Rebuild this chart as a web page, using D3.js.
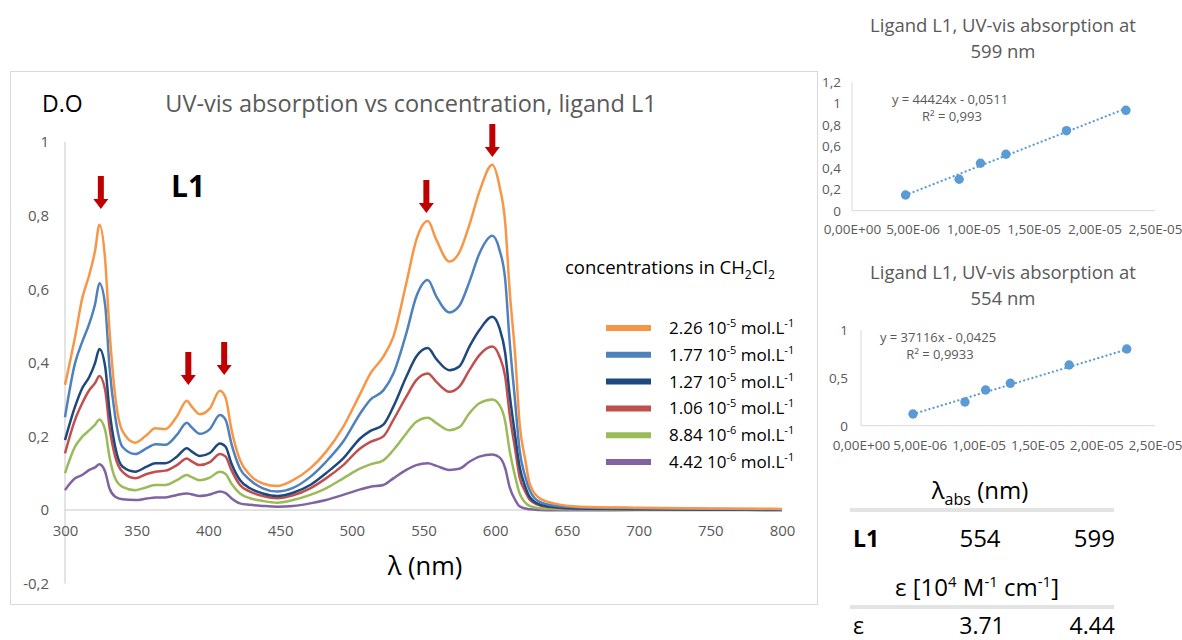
<!DOCTYPE html>
<html><head><meta charset="utf-8">
<script src="https://cdn.jsdelivr.net/npm/d3@7"></script>
<style>
body{margin:0;background:#fff}
svg{display:block}
text{font-family:"Open Sans",sans-serif}
</style>
</head><body>
<svg id="c" width="1182" height="640"></svg>
<script>
// ---------------- DATA ----------------
const wavelengths = [300,307,312,317,321,324,328,331,335,340,349,357,363,370,378,385,388,394,401,408,412,416,422,429,438,448,459,471,482,494,506,513,522,529,538,545,553,559,568,575,582,589,598,603,607,610,614,617,621,624,631,641,659,700,750,800];

const a226 = [0.34,0.47,0.575,0.64,0.705,0.775,0.68,0.49,0.31,0.215,0.183,0.204,0.222,0.22,0.254,0.297,0.283,0.26,0.276,0.324,0.305,0.22,0.136,0.095,0.072,0.065,0.081,0.113,0.158,0.226,0.317,0.371,0.417,0.471,0.616,0.734,0.785,0.734,0.675,0.70,0.775,0.865,0.938,0.88,0.78,0.60,0.417,0.236,0.136,0.0725,0.032,0.018,0.009,0.006,0.004,0.003];
const a177 = [0.252,0.399,0.457,0.507,0.56,0.616,0.557,0.389,0.254,0.172,0.152,0.168,0.179,0.177,0.204,0.237,0.226,0.207,0.22,0.258,0.245,0.181,0.113,0.0815,0.059,0.05,0.06,0.09,0.131,0.186,0.263,0.30,0.325,0.371,0.48,0.58,0.625,0.58,0.537,0.555,0.62,0.697,0.745,0.707,0.625,0.462,0.29,0.163,0.09,0.054,0.022,0.012,0.007,0.005,0.003,0.002];
const a127 = [0.19,0.281,0.331,0.362,0.40,0.4375,0.39,0.272,0.172,0.118,0.104,0.118,0.127,0.127,0.145,0.168,0.16,0.147,0.155,0.181,0.172,0.127,0.0815,0.059,0.045,0.038,0.047,0.068,0.10,0.14,0.195,0.215,0.232,0.281,0.362,0.417,0.44,0.41,0.38,0.39,0.444,0.489,0.525,0.494,0.426,0.317,0.20,0.118,0.063,0.036,0.015,0.008,0.004,0.002,0.001,0.0];
const a106 = [0.154,0.245,0.29,0.326,0.345,0.364,0.326,0.226,0.145,0.104,0.086,0.098,0.104,0.107,0.122,0.14,0.133,0.122,0.13,0.152,0.145,0.109,0.068,0.05,0.038,0.032,0.04,0.059,0.086,0.122,0.168,0.185,0.20,0.245,0.308,0.353,0.371,0.348,0.321,0.335,0.38,0.421,0.444,0.417,0.362,0.263,0.163,0.09,0.05,0.029,0.013,0.007,0.004,0.003,0.002,0.001];
const a884 = [0.10,0.172,0.199,0.217,0.232,0.246,0.217,0.145,0.086,0.063,0.054,0.062,0.068,0.068,0.081,0.095,0.09,0.081,0.088,0.104,0.098,0.072,0.045,0.032,0.0245,0.02,0.027,0.041,0.059,0.086,0.113,0.124,0.135,0.163,0.208,0.24,0.251,0.236,0.217,0.225,0.263,0.29,0.30,0.285,0.24,0.163,0.09,0.045,0.02,0.011,0.005,0.003,0.002,0.001,0.001,0.001];
const a442 = [0.054,0.086,0.095,0.109,0.116,0.124,0.104,0.059,0.036,0.029,0.027,0.031,0.034,0.034,0.041,0.045,0.043,0.038,0.042,0.05,0.046,0.032,0.018,0.014,0.011,0.009,0.011,0.018,0.027,0.041,0.056,0.063,0.068,0.086,0.109,0.122,0.127,0.12,0.109,0.112,0.131,0.145,0.151,0.143,0.113,0.063,0.027,0.01,0.004,0.002,0.0,-0.001,-0.001,0.0,0.0,0.0];

const concMantissa = ["2.26","1.77","1.27","1.06","8.84","4.42"];
const concExponent = ["-5","-5","-5","-5","-6","-6"];
const seriesColors = ["#F79646","#4F81BD","#1F497D","#C0504D","#9BBB59","#8064A2"];

const xTicks = [300,350,400,450,500,550,600,650,700,750,800];
const yTicks = [-0.2,0,0.2,0.4,0.6,0.8,1];

const arrowLambda = [325,386,411,552,598];
const arrowTipDO  = [0.818,0.34,0.367,0.807,0.959];

// calibration plots
const concPoints = [4.42e-6,8.84e-6,1.06e-5,1.27e-5,1.77e-5,2.26e-5];
const abs599 = [0.146,0.293,0.442,0.526,0.746,0.936];
const abs554 = [0.122,0.248,0.373,0.443,0.634,0.801];
const fit599 = [44424,-0.0511];
const fit554 = [37116,-0.0425];
const eq599 = ["y = 44424x - 0,0511","R² = 0,993"];
const eq554 = ["y = 37116x - 0,0425","R² = 0,9933"];
const concTicks = [0,5e-6,1e-5,1.5e-5,2e-5,2.5e-5];
const concTickLabels = ["0,00E+00","5,00E-06","1,00E-05","1,50E-05","2,00E-05","2,50E-05"];
const yTicks599 = [0,0.2,0.4,0.6,0.8,1,1.2];
const yTicks554 = [0,0.5,1];

// table
const tableLambda = ["554","599"];
const tableEps = ["3.71","4.44"];

// ---------------- DRAW ----------------
const svg = d3.select("#c");
const gray = "#595959";
const commaFmt = d => String(d).replace(".", ",");

// main frame
svg.append("rect").attr("x",10.5).attr("y",71.5).attr("width",807).attr("height",533)
  .attr("fill","#fff").attr("stroke","#d9d9d9");

const x = d3.scaleLinear().domain([300,800]).range([65,782]);
const y = d3.scaleLinear().domain([-0.2,1]).range([583.6,142]);

svg.append("line").attr("x1",65).attr("x2",65).attr("y1",y(1)).attr("y2",y(-0.2)).attr("stroke","#c8c8c8");
svg.append("line").attr("x1",x(300)).attr("x2",x(800)).attr("y1",y(0)).attr("y2",y(0)).attr("stroke","#c8c8c8");

const gy = svg.append("g").attr("transform","translate(65,0)")
  .call(d3.axisLeft(y).tickValues(yTicks).tickSize(0).tickPadding(16).tickFormat(commaFmt));
gy.select(".domain").remove();
gy.selectAll("text").attr("fill",gray).style("font-size","15px").style("font-family","Open Sans");

const gx = svg.append("g").attr("transform",`translate(0,${y(0)})`)
  .call(d3.axisBottom(x).tickValues(xTicks).tickSize(0).tickPadding(15).tickFormat(d=>d));
gx.select(".domain").remove();
gx.selectAll("text").attr("fill",gray).style("font-size","15px").style("font-family","Open Sans");

// spectra
const allSeries = [a226,a177,a127,a106,a884,a442];
const line = d3.line().x((d,i)=>x(wavelengths[i])).y(d=>y(d)).curve(d3.curveMonotoneX);
allSeries.slice().reverse().forEach((s,k)=>{
  const i = allSeries.length-1-k;
  svg.append("path").attr("d",line(s)).attr("fill","none")
    .attr("stroke",seriesColors[i]).attr("stroke-width",2.5).attr("stroke-linejoin","round");
});

// arrows
arrowLambda.forEach((l,i)=>{
  const ax = x(l), tip = y(arrowTipDO[i]);
  const p = [[ax-3,tip-33],[ax+3,tip-33],[ax+3,tip-10],[ax+7.5,tip-10],[ax,tip],[ax-7.5,tip-10],[ax-3,tip-10]];
  svg.append("path").attr("d","M"+p.map(q=>q.join(",")).join("L")+"Z").attr("fill","#C00000");
});

// titles
svg.append("text").attr("x",42).attr("y",103).attr("dominant-baseline","central")
  .style("font-size","23px").attr("fill","#000").text("D.O");
svg.append("text").attr("x",411).attr("y",103).attr("text-anchor","middle").attr("dominant-baseline","central")
  .style("font-size","23.5px").attr("fill",gray).text("UV-vis absorption vs concentration, ligand L1");
svg.append("text").attr("x",171).attr("y",185).attr("dominant-baseline","central")
  .style("font-size","30px").style("font-weight","bold").attr("fill","#000").text("L1");
svg.append("text").attr("x",425).attr("y",565).attr("text-anchor","middle").attr("dominant-baseline","central")
  .style("font-size","25.5px").attr("fill","#000").text("λ (nm)");

// legend title
const lt = svg.append("text").attr("x",565).attr("y",274).style("font-size","18.5px").attr("fill","#000");
lt.append("tspan").text("concentrations in CH");
lt.append("tspan").attr("dy",5).style("font-size","12px").text("2");
lt.append("tspan").attr("dy",-5).text("Cl");
lt.append("tspan").attr("dy",5).style("font-size","12px").text("2");

// legend rows
concMantissa.forEach((m,i)=>{
  const ly = 328 + i*26.8;
  svg.append("line").attr("x1",606).attr("x2",651).attr("y1",ly).attr("y2",ly)
    .attr("stroke",seriesColors[i]).attr("stroke-width",6);
  const t = svg.append("text").attr("x",669).attr("y",ly+6).style("font-size","17px").attr("fill","#000");
  t.append("tspan").text(m+" 10");
  t.append("tspan").attr("dy",-7).style("font-size","11px").text(concExponent[i]);
  t.append("tspan").attr("dy",7).text(" mol.L");
  t.append("tspan").attr("dy",-7).style("font-size","11px").text("-1");
});

// calibration plots
function calib(opts){
  const {title1,title2,ty,xr,yr,yDomain,yTickVals,vals,fit,eq,eqX,eqY,xLabY,yLabX} = opts;
  const sx = d3.scaleLinear().domain([0,2.5e-5]).range(xr);
  const sy = d3.scaleLinear().domain(yDomain).range(yr);
  svg.append("text").attr("x",1003).attr("y",ty).attr("text-anchor","middle").attr("dominant-baseline","central")
    .style("font-size","18.5px").attr("fill",gray).text(title1);
  svg.append("text").attr("x",1003).attr("y",ty+26).attr("text-anchor","middle").attr("dominant-baseline","central")
    .style("font-size","18.5px").attr("fill",gray).text(title2);
  svg.append("line").attr("x1",xr[0]).attr("x2",xr[0]).attr("y1",yr[1]).attr("y2",yr[0]).attr("stroke","#d9d9d9");
  svg.append("line").attr("x1",xr[0]).attr("x2",xr[1]).attr("y1",yr[0]).attr("y2",yr[0]).attr("stroke","#d9d9d9");
  const ay = svg.append("g").attr("transform",`translate(${yLabX},0)`)
    .call(d3.axisLeft(sy).tickValues(yTickVals).tickSize(0).tickPadding(0).tickFormat(commaFmt));
  ay.select(".domain").remove();
  ay.selectAll("text").attr("fill",gray).style("font-size","13.5px").style("font-family","Open Sans");
  const ax = svg.append("g").attr("transform",`translate(0,${xLabY})`)
    .call(d3.axisBottom(sx).tickValues(concTicks).tickSize(0).tickPadding(0).tickFormat((d,i)=>concTickLabels[i]));
  ax.select(".domain").remove();
  ax.selectAll("text").attr("fill",gray).style("font-size","13.5px").style("font-family","Open Sans");
  const c0 = d3.min(concPoints), c1 = d3.max(concPoints);
  svg.append("line").attr("x1",sx(c0)).attr("y1",sy(fit[0]*c0+fit[1])).attr("x2",sx(c1)).attr("y2",sy(fit[0]*c1+fit[1]))
    .attr("stroke","#5B9BD5").attr("stroke-width",2.2).attr("stroke-dasharray","0.1,4.2").attr("stroke-linecap","round");
  svg.selectAll(null).data(vals).enter().append("circle")
    .attr("cx",(d,i)=>sx(concPoints[i])).attr("cy",d=>sy(d)).attr("r",4.7).attr("fill","#5B9BD5");
  svg.append("text").attr("x",eqX).attr("y",eqY).attr("text-anchor","middle").attr("dominant-baseline","central")
    .style("font-size","13px").attr("fill",gray).text(eq[0]);
  svg.append("text").attr("x",eqX+2).attr("y",eqY+17).attr("text-anchor","middle").attr("dominant-baseline","central")
    .style("font-size","13px").attr("fill",gray).text(eq[1]);
}
calib({title1:"Ligand L1, UV-vis absorption at",title2:"599 nm",ty:24,xr:[852,1155],yr:[210.7,82],
  yDomain:[0,1.2],yTickVals:yTicks599,vals:abs599,fit:fit599,eq:eq599,eqX:950,eqY:99,xLabY:224,yLabX:841});
calib({title1:"Ligand L1, UV-vis absorption at",title2:"554 nm",ty:271,xr:[861,1155],yr:[425.7,330],
  yDomain:[0,1],yTickVals:yTicks554,vals:abs554,fit:fit554,eq:eq554,eqX:938,eqY:337,xLabY:440,yLabX:848});

// table
const t1 = svg.append("text").attr("x",980).attr("y",499).attr("text-anchor","middle").style("font-size","24px").attr("fill","#000");
t1.append("tspan").text("λ");
t1.append("tspan").attr("dy",6).style("font-size","16px").text("abs");
t1.append("tspan").attr("dy",-6).text(" (nm)");
svg.append("rect").attr("x",850).attr("y",508).attr("width",264).attr("height",4).attr("fill","#e3e3e3");
svg.append("text").attr("x",853).attr("y",547).style("font-size","23px").style("font-weight","bold").attr("fill","#000").text("L1");
svg.append("text").attr("x",980).attr("y",547).attr("text-anchor","middle").style("font-size","24px").attr("fill","#000").text(tableLambda[0]);
svg.append("text").attr("x",1115).attr("y",547).attr("text-anchor","end").style("font-size","24px").attr("fill","#000").text(tableLambda[1]);
const t2 = svg.append("text").attr("x",977).attr("y",596).attr("text-anchor","middle").style("font-size","24px").attr("fill","#000");
t2.append("tspan").text("ε [10");
t2.append("tspan").attr("dy",-9).style("font-size","15px").text("4");
t2.append("tspan").attr("dy",9).text(" M");
t2.append("tspan").attr("dy",-9).style("font-size","15px").text("-1");
t2.append("tspan").attr("dy",9).text(" cm");
t2.append("tspan").attr("dy",-9).style("font-size","15px").text("-1");
t2.append("tspan").attr("dy",9).text("]");
svg.append("rect").attr("x",850).attr("y",605).attr("width",264).attr("height",4).attr("fill","#e3e3e3");
svg.append("text").attr("x",853).attr("y",634).style("font-size","23px").attr("fill","#000").text("ε");
svg.append("text").attr("x",982).attr("y",634).attr("text-anchor","middle").style("font-size","23px").attr("fill","#000").text(tableEps[0]);
svg.append("text").attr("x",1115).attr("y",634).attr("text-anchor","end").style("font-size","23px").attr("fill","#000").text(tableEps[1]);
</script>
</body></html>
